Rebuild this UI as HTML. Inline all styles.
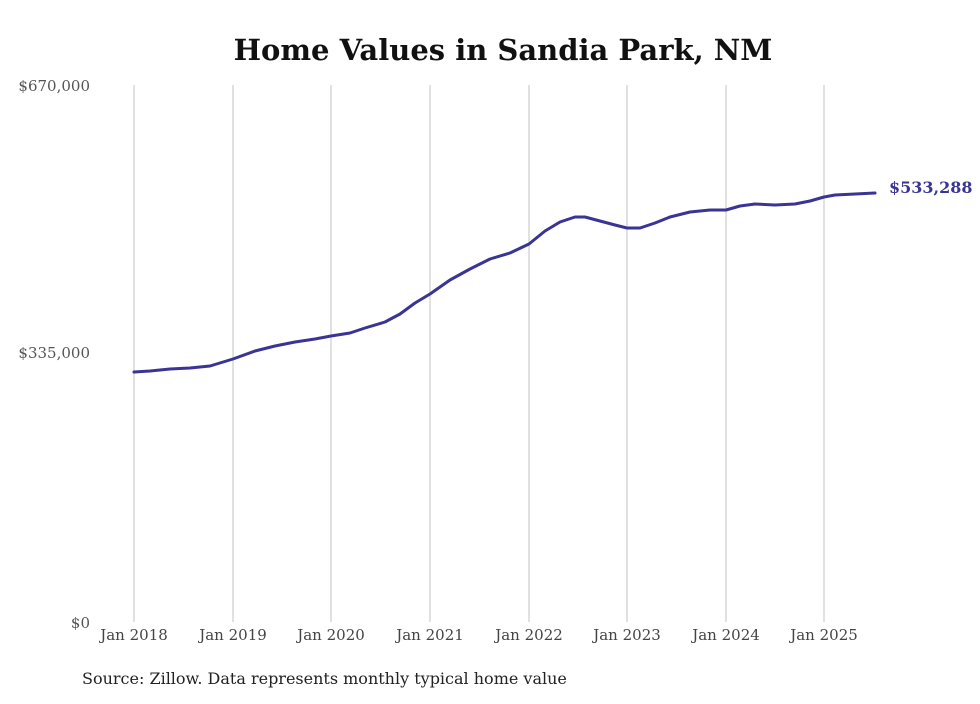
<!DOCTYPE html>
<html><head><meta charset="utf-8"><style>
body{margin:0;background:#fff;}
svg text{font-family:"DejaVu Serif","Liberation Serif",serif;}
</style></head><body>
<svg width="980" height="699" xmlns="http://www.w3.org/2000/svg">
<rect width="980" height="699" fill="#fff"/>
<text x="503" y="60" text-anchor="middle" font-size="29" font-weight="bold" fill="#111">Home Values in Sandia Park, NM</text>
<g stroke="#bdbdbd" stroke-width="0.9">
<line x1="134" y1="85" x2="134" y2="622"/><line x1="233" y1="85" x2="233" y2="622"/>
<line x1="331" y1="85" x2="331" y2="622"/><line x1="430" y1="85" x2="430" y2="622"/>
<line x1="529" y1="85" x2="529" y2="622"/><line x1="627" y1="85" x2="627" y2="622"/>
<line x1="726" y1="85" x2="726" y2="622"/><line x1="824" y1="85" x2="824" y2="622"/>
</g>
<g font-size="15" fill="#555">
<text x="90" y="91" text-anchor="end">$670,000</text>
<text x="90" y="358" text-anchor="end">$335,000</text>
<text x="90" y="628" text-anchor="end">$0</text>
</g>
<g font-size="15" fill="#444" text-anchor="middle">
<text x="134" y="640">Jan 2018</text><text x="233" y="640">Jan 2019</text>
<text x="331" y="640">Jan 2020</text><text x="430" y="640">Jan 2021</text>
<text x="529" y="640">Jan 2022</text><text x="627" y="640">Jan 2023</text>
<text x="726" y="640">Jan 2024</text><text x="824" y="640">Jan 2025</text>
</g>
<polyline fill="none" stroke="#3a3494" stroke-width="3" stroke-linejoin="round" stroke-linecap="round"
points="134,372 150,371 170,369 190,368 210,366 233,359 255,351 275,346 295,342 315,339 331,336 350,333 365,328 385,322 400,314 415,303 430,294 450,280 470,269 490,259 510,253 529,244 545,231 560,222 575,217 585,217 600,221 615,225 627,228 640,228 655,223 670,217 690,212 710,210 726,210 740,206 755,204 775,205 795,204 810,201 824,197 835,195 855,194 875,193"/>
<text x="889" y="193" font-size="16" font-weight="bold" fill="#3a3494">$533,288</text>
<text x="82" y="684" font-size="16" fill="#222">Source: Zillow. Data represents monthly typical home value</text>
</svg>
</body></html>
